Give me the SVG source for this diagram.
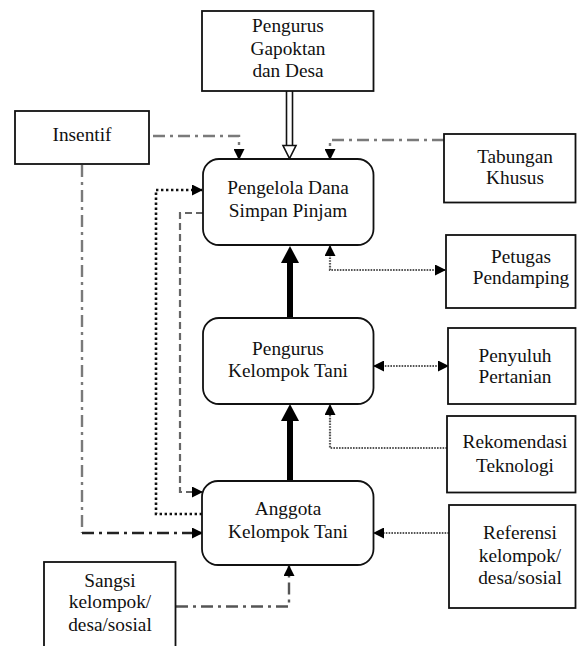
<svg xmlns="http://www.w3.org/2000/svg" width="577" height="646" viewBox="0 0 577 646">
<style>
  .box { fill: #fff; stroke: #111; stroke-width: 1.8; }
  .t { font-family: 'Liberation Serif', 'Times New Roman', serif; font-size: 19.3px; fill: #111; text-anchor: middle; }
  .dd { fill: none; stroke: #7a7a7a; stroke-width: 2.4; stroke-dasharray: 12 5 3 5; }
  .ddk { fill: none; stroke: #222; stroke-width: 2.4; stroke-dasharray: 12 5 3 5; }
  .dotk { fill: none; stroke: #111; stroke-width: 2.6; stroke-dasharray: 2.4 2.6; }
  .dotg { fill: none; stroke: #555; stroke-width: 2.2; stroke-dasharray: 1.6 1.2; }
  .dash { fill: none; stroke: #666; stroke-width: 2.2; stroke-dasharray: 7 4; }
  .thick { fill: none; stroke: #000; stroke-width: 6; }
</style>
<defs>
  <marker id="ah" viewBox="0 0 11 11" refX="10" refY="5.5" markerWidth="11" markerHeight="11" markerUnits="userSpaceOnUse" orient="auto-start-reverse">
    <path d="M0,0 L11,5.5 L0,11 z" fill="#000"/>
  </marker>
  <marker id="big" viewBox="0 0 17 18" refX="0" refY="9" markerWidth="17" markerHeight="18" markerUnits="userSpaceOnUse" orient="auto">
    <path d="M0,0 L17,9 L0,18 z" fill="#000"/>
  </marker>
</defs>

<g id="connectors">
  <path class="dd" d="M153,136 H239 V159" marker-end="url(#ah)"/>
  <path class="dd" d="M444,140 H330 V159" marker-end="url(#ah)"/>
  <g id="hollow-arrow">
    <line x1="286.5" y1="91" x2="286.5" y2="146" stroke="#111" stroke-width="1.6"/>
    <line x1="292.5" y1="91" x2="292.5" y2="146" stroke="#111" stroke-width="1.6"/>
    <polygon points="283,145.5 296,145.5 289.5,158.5" fill="#fff" stroke="#111" stroke-width="1.6"/>
  </g>
  <path class="dd" d="M82,165 V533"/>
  <path class="ddk" d="M82,533 H202" marker-end="url(#ah)"/>
  <path class="dotk" d="M202,514 H156 V190 H202" marker-end="url(#ah)"/>
  <path class="dash" d="M203,213 H180 V492 H202" marker-end="url(#ah)"/>
  <path class="thick" d="M290,318 V263" marker-end="url(#big)"/>
  <path class="thick" d="M290,481 V421" marker-end="url(#big)"/>
  <path class="dotg" d="M445,270 H330 V246" marker-start="url(#ah)" marker-end="url(#ah)"/>
  <path class="dotg" d="M448,366 H374" marker-start="url(#ah)" marker-end="url(#ah)"/>
  <path class="dotg" d="M447,448 H330 V405" marker-end="url(#ah)"/>
  <path class="dotg" d="M449,533 H374" marker-end="url(#ah)"/>
  <path class="dd" d="M176,606.5 H289 V566" style="stroke:#555" marker-end="url(#ah)"/>
</g>

<g id="pengurus-gapoktan">
  <rect class="box" x="202" y="11" width="171.5" height="80"/>
  <text class="t" x="288" y="32">Pengurus</text>
  <text class="t" x="288" y="55">Gapoktan</text>
  <text class="t" x="288" y="77">dan Desa</text>
</g>

<g id="insentif">
  <rect class="box" x="15" y="111" width="134" height="53"/>
  <text class="t" x="82" y="141">Insentif</text>
</g>

<g id="tabungan">
  <rect class="box" x="444" y="134" width="131.5" height="68.5"/>
  <text class="t" x="515" y="163">Tabungan</text>
  <text class="t" x="515" y="184">Khusus</text>
</g>

<g id="pengelola">
  <rect class="box" x="203" y="159" width="170.5" height="86" rx="16"/>
  <text class="t" x="288" y="194">Pengelola Dana</text>
  <text class="t" x="288" y="217">Simpan Pinjam</text>
</g>

<g id="petugas">
  <rect class="box" x="446" y="235" width="129.5" height="73"/>
  <text class="t" x="521" y="263">Petugas</text>
  <text class="t" x="521" y="284">Pendamping</text>
</g>

<g id="pengurus-kelompok">
  <rect class="box" x="203" y="318" width="170.5" height="86" rx="16"/>
  <text class="t" x="288" y="355">Pengurus</text>
  <text class="t" x="288" y="377">Kelompok Tani</text>
</g>

<g id="penyuluh">
  <rect class="box" x="448" y="328" width="127.5" height="76"/>
  <text class="t" x="515" y="362">Penyuluh</text>
  <text class="t" x="515" y="383">Pertanian</text>
</g>

<g id="rekomendasi">
  <rect class="box" x="447" y="416" width="128.5" height="76.5"/>
  <text class="t" x="515" y="448">Rekomendasi</text>
  <text class="t" x="515" y="472">Teknologi</text>
</g>

<g id="anggota">
  <rect class="box" x="202" y="481" width="171.5" height="84" rx="16"/>
  <text class="t" x="288" y="515">Anggota</text>
  <text class="t" x="288" y="538">Kelompok Tani</text>
</g>

<g id="referensi">
  <rect class="box" x="449" y="505" width="126.5" height="103"/>
  <text class="t" x="520" y="539">Referensi</text>
  <text class="t" x="520" y="562">kelompok/</text>
  <text class="t" x="520" y="584">desa/sosial</text>
</g>

<g id="sangsi">
  <rect class="box" x="44" y="562" width="131.5" height="100"/>
  <text class="t" x="110" y="587">Sangsi</text>
  <text class="t" x="110" y="608">kelompok/</text>
  <text class="t" x="110" y="631">desa/sosial</text>
</g>
</svg>
